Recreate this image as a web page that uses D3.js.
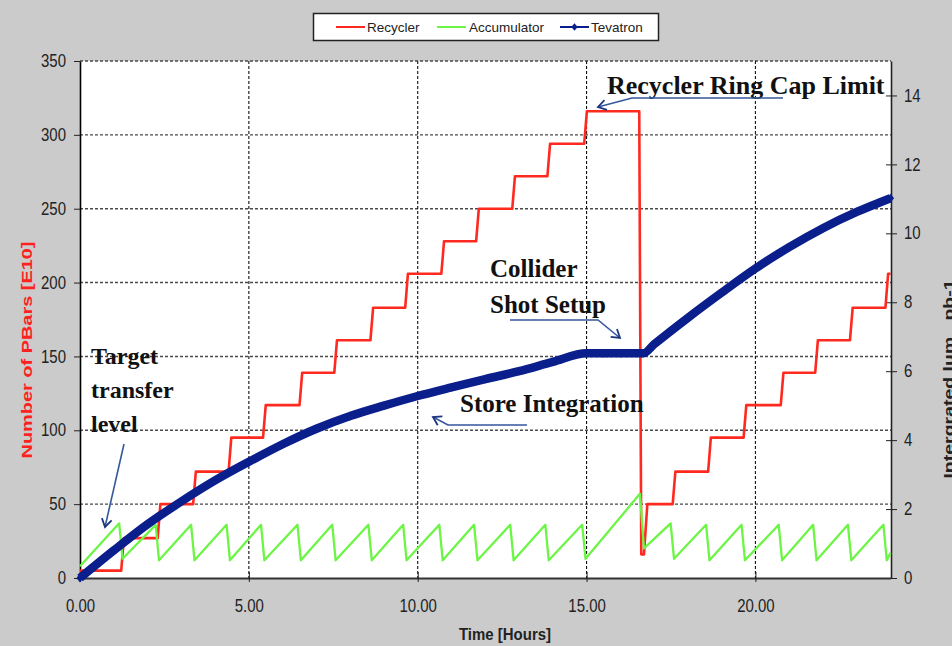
<!DOCTYPE html>
<html>
<head>
<meta charset="utf-8">
<script src="https://cdn.jsdelivr.net/npm/d3@7"></script>
<style>
  body { margin: 0; background: #cbcbcb; }
  svg { display: block; }
  .sans { font-family: "Liberation Sans", Arial, sans-serif; }
  .serif { font-family: "Liberation Serif", "Times New Roman", serif; font-weight: bold; }
</style>
</head>
<body>
<svg id="chart" width="952" height="646"></svg>
<script>
// ---- data -------------------------------------------------------------
// Recycler stash (E10 pbars) vs time in hours; each step is one transfer
const recyclerTime = [0, 1.22, 1.30, 2.30, 2.38, 3.35, 3.43, 4.40, 4.48, 5.42, 5.50,
  6.50, 6.58, 7.53, 7.61, 8.60, 8.68, 9.63, 9.71, 10.70, 10.78, 11.73, 11.81,
  12.80, 12.88, 13.84, 13.92, 14.93, 15.01, 16.56, 16.62, 16.70, 16.80,
  17.55, 17.63, 18.60, 18.68, 19.65, 19.73, 20.75, 20.83, 21.77, 21.85,
  22.80, 22.88, 23.85, 23.93, 24.00];
const recyclerPBars = [5, 5, 27, 27, 50, 50, 72, 72, 95, 95, 117,
  117, 139, 139, 161, 161, 183, 183, 206, 206, 228, 228, 250,
  250, 272, 272, 294, 294, 316, 316, 16, 16, 50,
  50, 72, 72, 95, 95, 117, 117, 139, 139, 161,
  161, 183, 183, 206, 206];

// Accumulator stack (E10 pbars): stacks up, then is emptied into the Recycler
const accumulatorTime = [0, 1.16, 1.26, 2.24, 2.34, 3.29, 3.39, 4.34, 4.44, 5.36, 5.46,
  6.44, 6.54, 7.47, 7.57, 8.54, 8.64, 9.57, 9.67, 10.64, 10.74, 11.67, 11.77,
  12.74, 12.84, 13.78, 13.88, 14.87, 14.97, 16.58, 16.70, 17.49, 17.59,
  18.54, 18.64, 19.59, 19.69, 20.69, 20.79, 21.71, 21.81, 22.74, 22.84,
  23.79, 23.89, 24.00];
const accumulatorPBars = [8, 37, 13, 36, 12, 36, 12, 36, 12, 36, 12,
  36, 12, 36, 12, 36, 12, 36, 12, 36, 12, 36, 12,
  36, 12, 36, 12, 36, 13, 57, 20, 37, 13,
  36, 12, 36, 12, 36, 12, 36, 12, 36, 12,
  36, 12, 17];

// Tevatron integrated luminosity (pb-1), right axis
const tevatronTime = [0, 1, 2, 3, 4, 5, 6, 7, 8, 9, 10, 11, 12, 13, 14, 15,
  15.5, 16, 16.68, 17, 18, 19, 20, 21, 22, 23, 24];
const tevatronLumi = [0, 0.8, 1.56, 2.22, 2.83, 3.37, 3.88, 4.33, 4.7, 5.0, 5.28,
  5.53, 5.77, 6.0, 6.27, 6.52, 6.52, 6.52, 6.52, 6.78, 7.55, 8.28, 8.98,
  9.6, 10.15, 10.62, 11.02];

const timeTicks = [0, 5, 10, 15, 20];
const pbarTicks = [0, 50, 100, 150, 200, 250, 300, 350];
const lumiTicks = [0, 2, 4, 6, 8, 10, 12, 14];
const seriesNames = ["Recycler", "Accumulator", "Tevatron"];

// ---- styles -----------------------------------------------------------
const RED = "#ff2a1f", GREEN = "#6cf545", NAVY = "#0b1f8c", ARROW = "#35579c";

const svg = d3.select("#chart");
const plotLeft = 80, plotRight = 891, plotTop = 61, plotBottom = 578;

const x = d3.scaleLinear().domain([0, 24]).range([plotLeft, plotRight - 0.5]);
const yL = d3.scaleLinear().domain([0, 350]).range([plotBottom, plotTop]);
const yR = d3.scaleLinear().domain([0, 15]).range([plotBottom, plotTop]);

// background
svg.append("rect").attr("width", 952).attr("height", 646).attr("fill", "#cbcbcb");
svg.append("rect").attr("x", plotLeft).attr("y", plotTop)
  .attr("width", plotRight - plotLeft).attr("height", plotBottom - plotTop).attr("fill", "#fff");

// gridlines
svg.append("g").selectAll("line").data(pbarTicks.filter(d => d > 0)).join("line")
  .attr("x1", plotLeft).attr("x2", plotRight)
  .attr("y1", d => yL(d)).attr("y2", d => yL(d))
  .attr("stroke", "#4a4a4a").attr("stroke-width", 1.4).attr("stroke-dasharray", "3,2");
svg.append("g").selectAll("line").data(timeTicks.filter(d => d > 0)).join("line")
  .attr("x1", d => x(d)).attr("x2", d => x(d))
  .attr("y1", plotTop).attr("y2", plotBottom)
  .attr("stroke", "#111").attr("stroke-width", 1.1).attr("stroke-dasharray", "3,2");

// axes
const axisFont = g => g.selectAll("text")
  .attr("class", "sans").style("font-size", "15px").attr("fill", "#222");

const gL = svg.append("g").attr("transform", `translate(${plotLeft},0)`)
  .call(d3.axisLeft(yL).tickValues(pbarTicks).tickSize(6).tickPadding(8).tickSizeOuter(0))
  .call(axisFont);
gL.select(".domain").attr("stroke", "#000").attr("stroke-width", 1.6);
gL.selectAll(".tick line").attr("stroke", "#222");
gL.selectAll(".tick text").attr("transform", "scale(1,1.18)");

const gR = svg.append("g").attr("transform", `translate(${plotRight},0)`)
  .call(d3.axisRight(yR).tickValues(lumiTicks).tickSize(6).tickPadding(7).tickSizeOuter(0))
  .call(axisFont);
gR.select(".domain").attr("stroke", "#222").attr("stroke-width", 1.6);
gR.selectAll(".tick line").attr("x1", -5).attr("stroke", "#222");
gR.selectAll(".tick text").attr("transform", "scale(1,1.18)");

const gB = svg.append("g").attr("transform", `translate(0,${plotBottom})`)
  .call(d3.axisBottom(x).tickValues(timeTicks).tickFormat(d3.format(".2f"))
    .tickSize(0).tickSizeOuter(0))
  .call(axisFont);
gB.select(".domain").attr("stroke", "#333").attr("stroke-width", 2);
gB.selectAll(".tick line").attr("y1", -6).attr("y2", 4).attr("stroke", "#222");
gB.selectAll(".tick text").attr("y", 0).attr("dy", 0)
  .attr("transform", "translate(0,34) scale(1,1.18)");

// axis titles
svg.append("text").attr("class", "sans")
  .attr("transform", "translate(32,350) rotate(-90) scale(1.33,1)")
  .attr("text-anchor", "middle").style("font-size", "15px").style("font-weight", "bold")
  .attr("fill", "#ff2020").text("Number of PBars [E10]");
svg.append("text").attr("class", "sans")
  .attr("transform", "translate(954,379) rotate(-90) scale(1.3,1)")
  .attr("text-anchor", "middle").style("font-size", "15px").style("font-weight", "bold")
  .style("white-space", "pre").attr("fill", "#222").text("Intergrated lum   pb-1");
svg.append("text").attr("class", "sans")
  .attr("transform", "translate(505,640) scale(1,1.15)")
  .attr("text-anchor", "middle").style("font-size", "15px").style("font-weight", "bold")
  .attr("fill", "#222").text("Time [Hours]");

// series
const idx = arr => d3.range(arr.length);
svg.append("path")
  .attr("d", d3.line().x(i => x(recyclerTime[i])).y(i => yL(recyclerPBars[i]))(idx(recyclerTime)))
  .attr("fill", "none").attr("stroke", RED).attr("stroke-width", 2.6).attr("stroke-linejoin", "round");
svg.append("path")
  .attr("d", d3.line().x(i => x(accumulatorTime[i])).y(i => yL(accumulatorPBars[i]))(idx(accumulatorTime)))
  .attr("fill", "none").attr("stroke", GREEN).attr("stroke-width", 2.3).attr("stroke-linejoin", "round");
svg.append("path")
  .attr("d", d3.line().curve(d3.curveMonotoneX)
    .x(i => x(tevatronTime[i])).y(i => yR(tevatronLumi[i]))(idx(tevatronTime)))
  .attr("fill", "none").attr("stroke", NAVY).attr("stroke-width", 8.5).attr("stroke-linecap", "butt");
const diamond = "M0,-5.5L4.5,0L0,5.5L-4.5,0Z";
svg.append("g").selectAll("path").data(idx(tevatronTime)).join("path")
  .attr("transform", i => `translate(${x(tevatronTime[i])},${yR(tevatronLumi[i])}) scale(0.8)`)
  .attr("d", diamond).attr("fill", NAVY);

// legend
const lg = svg.append("g").attr("class", "sans");
lg.append("rect").attr("x", 313.5).attr("y", 13.5).attr("width", 345).attr("height", 27)
  .attr("fill", "#fff").attr("stroke", "#222").attr("stroke-width", 1.5);
const legendItems = [
  { name: seriesNames[0], color: RED, x0: 336, tx: 367 },
  { name: seriesNames[1], color: GREEN, x0: 437, tx: 469 },
  { name: seriesNames[2], color: NAVY, x0: 560, tx: 591, marker: true }
];
legendItems.forEach(d => {
  lg.append("line").attr("x1", d.x0).attr("x2", d.x0 + 29).attr("y1", 27).attr("y2", 27)
    .attr("stroke", d.color).attr("stroke-width", 2);
  if (d.marker) lg.append("path").attr("transform", `translate(${d.x0 + 14.5},27) scale(0.7)`)
    .attr("d", diamond).attr("fill", d.color);
  lg.append("text").attr("x", d.tx).attr("y", 31.5).style("font-size", "13.5px")
    .attr("fill", "#222").text(d.name);
});

// annotations
const defs = svg.append("defs");
defs.append("marker").attr("id", "head").attr("viewBox", "-10 -6 12 12")
  .attr("refX", 0).attr("refY", 0).attr("markerWidth", 12).attr("markerHeight", 12)
  .attr("markerUnits", "userSpaceOnUse").attr("orient", "auto")
  .append("path").attr("d", "M-8,-5L0,0L-8,5").attr("fill", "none")
  .attr("stroke", "#1d3680").attr("stroke-width", 1.8);

const note = (lines, x0, y0, size, gap) => lines.forEach((t, k) =>
  svg.append("text").attr("class", "serif").attr("x", x0).attr("y", y0 + k * gap)
    .style("font-size", size + "px").attr("fill", "#111").text(t));
note(["Target", "transfer", "level"], 91, 364, 24, 34);
note(["Collider", "Shot Setup"], 490, 277, 25, 36);
note(["Store Integration"], 460, 412, 25, 0);
note(["Recycler Ring Cap Limit"], 607, 94, 26, 0);

const arrow = pts => svg.append("path").attr("d", d3.line()(pts))
  .attr("fill", "none").attr("stroke", ARROW).attr("stroke-width", 1.6)
  .attr("marker-end", "url(#head)");
arrow([[124, 444], [105, 527]]);
arrow([[783, 98], [632, 98], [598, 107]]);
arrow([[510, 320], [598, 320], [620, 338]]);
arrow([[527, 425], [448, 425], [433, 417]]);
</script>
</body>
</html>
